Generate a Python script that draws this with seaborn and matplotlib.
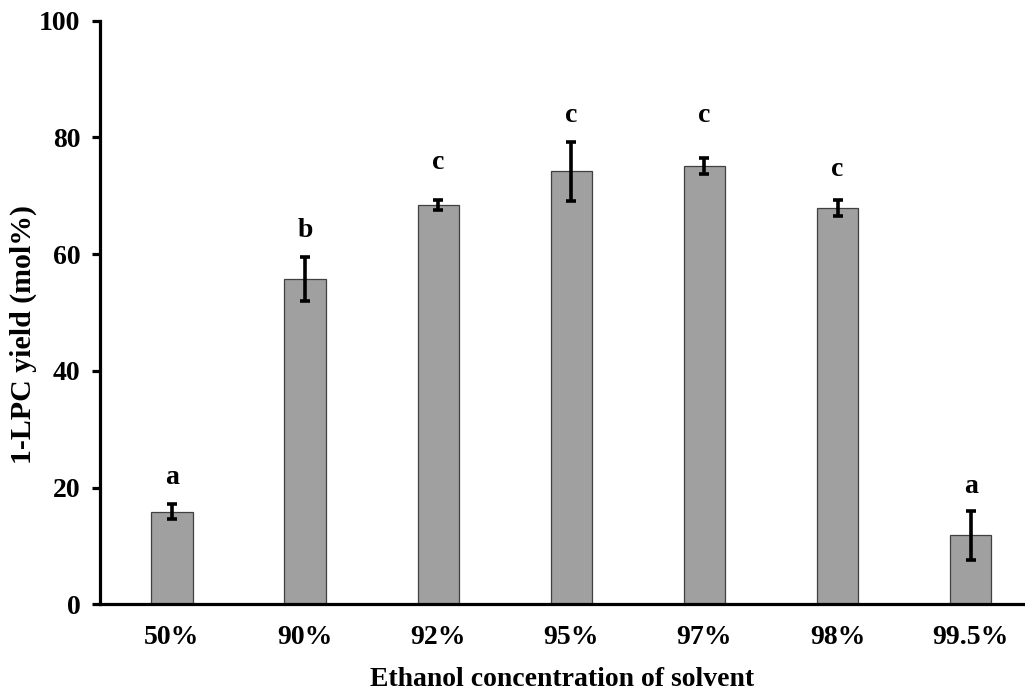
import numpy as np
import pandas as pd
import matplotlib
matplotlib.use("Agg")
import matplotlib.pyplot as plt
import seaborn as sns

# data
concentration = ["50%", "90%", "92%", "95%", "97%", "98%", "99.5%"]
yield_mean = [15.9, 55.7, 68.4, 74.2, 75.1, 67.9, 11.8]
yield_err = [1.3, 3.8, 0.9, 5.0, 1.4, 1.4, 4.2]
letters = ["a", "b", "c", "c", "c", "c", "a"]
letter_y = [21.7, 64.0, 75.7, 83.8, 83.8, 74.5, 20.2]

df = pd.DataFrame({"conc": concentration, "yield": yield_mean})

sns.set_style("white")
plt.rcParams["font.family"] = ["Liberation Serif", "DejaVu Serif"]
plt.rcParams["font.weight"] = "bold"
plt.rcParams["text.color"] = "black"
plt.rcParams["axes.labelcolor"] = "black"
plt.rcParams["xtick.color"] = "black"
plt.rcParams["ytick.color"] = "black"

fig = plt.figure(figsize=(10.25, 6.93), dpi=100)
ax = fig.add_axes([0.0976, 0.128, 0.9014, 0.842])

sns.barplot(data=df, x="conc", y="yield", color="#a0a0a0", width=0.31,
            edgecolor="#404040", linewidth=0.9, saturation=1, ax=ax)
ax.errorbar(range(len(concentration)), yield_mean, yerr=yield_err, fmt="none",
            ecolor="black", elinewidth=2.6, capsize=3.5, capthick=2.6)

for i, (lab, yy) in enumerate(zip(letters, letter_y)):
    ax.text(i, yy, lab, ha="center", va="center", fontsize=20, fontweight="bold")

ax.set_ylim(0, 100)
ax.set_xlim(-0.54, 6.40)
ax.set_yticks([0, 20, 40, 60, 80, 100])
ax.set_xlabel("Ethanol concentration of solvent", fontsize=20, fontweight="bold", labelpad=12)
ax.set_ylabel("1-LPC yield (mol%)", fontsize=21.5, fontweight="bold", va="center")
ax.yaxis.set_label_coords(-0.083, 0.462)

for s in ["top", "right"]:
    ax.spines[s].set_visible(False)
for s in ["left", "bottom"]:
    ax.spines[s].set_linewidth(2.3)
    ax.spines[s].set_color("black")

ax.tick_params(axis="y", direction="out", length=6, width=2.3, labelsize=20, pad=8, left=True)
ax.tick_params(axis="x", length=0, labelsize=20, pad=15)
for t in ax.get_xticklabels() + ax.get_yticklabels():
    t.set_fontweight("bold")

fig.savefig("out.png", dpi=100)
